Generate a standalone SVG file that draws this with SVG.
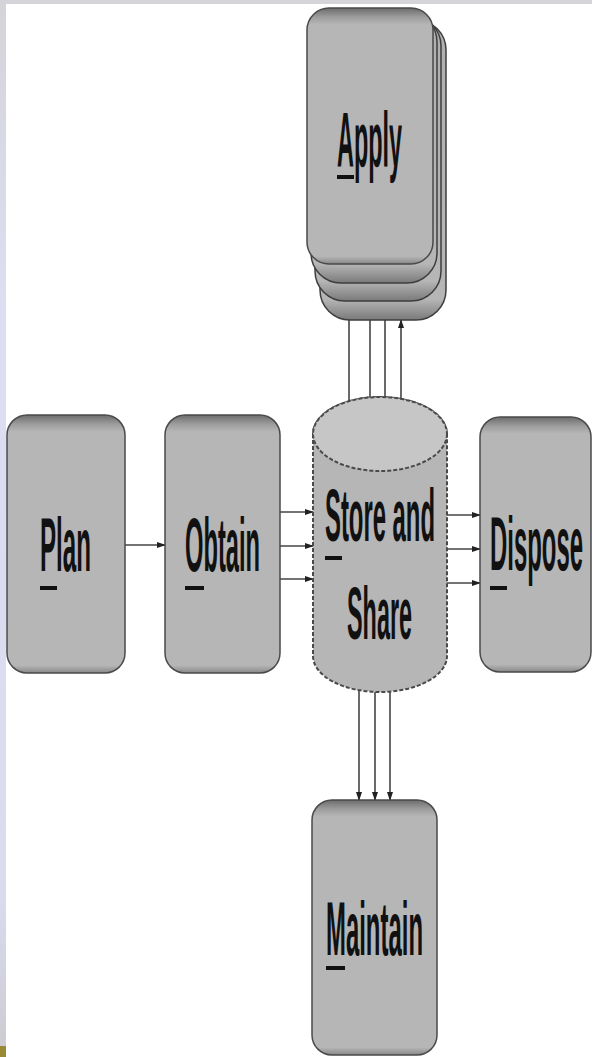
<svg xmlns="http://www.w3.org/2000/svg" width="592" height="1057" viewBox="0 0 592 1057">
  <defs>
    <linearGradient id="boxg" x1="0" y1="0" x2="0" y2="1">
      <stop offset="0" stop-color="#6c6c6c"/>
      <stop offset="0.035" stop-color="#9c9c9c"/>
      <stop offset="0.065" stop-color="#b6b6b6"/>
      <stop offset="0.97" stop-color="#b6b6b6"/>
      <stop offset="1" stop-color="#888888"/>
    </linearGradient>
    <linearGradient id="stackg" x1="0" y1="0" x2="0" y2="1">
      <stop offset="0" stop-color="#b0b0b0"/>
      <stop offset="0.93" stop-color="#b6b6b6"/>
      <stop offset="1" stop-color="#7a7a7a"/>
    </linearGradient>
    <linearGradient id="sideg" x1="0" y1="0" x2="0" y2="1">
      <stop offset="0" stop-color="#d4d4d8"/>
      <stop offset="0.3" stop-color="#dcdff3"/>
      <stop offset="0.85" stop-color="#d9dbef"/>
      <stop offset="1" stop-color="#cbcbcf"/>
    </linearGradient>
    <marker id="ah" markerWidth="9" markerHeight="6" refX="8" refY="3" orient="auto" markerUnits="userSpaceOnUse">
      <path d="M0,0 L9,3 L0,6 Z" fill="#222"/>
    </marker>
    <style>
      .box { fill: url(#boxg); stroke: #4a4a4a; stroke-width: 1.5; }
      .layer { fill: url(#stackg); stroke: #3e3e3e; stroke-width: 1.5; }
      .lbl { font-family: "Liberation Sans", Arial, sans-serif; font-weight: bold; fill: #111; }
      .ul { fill: #111; }
      .conn { stroke: #444; stroke-width: 1.6; fill: none; marker-end: url(#ah); }
    </style>
  </defs>

  <rect x="0" y="0" width="592" height="1057" fill="#ffffff"/>
  <rect x="0" y="0" width="592" height="4" fill="#d5d5d9"/>
  <rect x="0" y="0" width="6" height="1057" fill="url(#sideg)"/>
  <rect x="0" y="1046" width="6" height="11" fill="#9a8a35"/>

  <g id="connectors">
    <line class="conn" x1="125" y1="545" x2="165" y2="545"/>
    <line class="conn" x1="280" y1="512" x2="313" y2="512"/>
    <line class="conn" x1="280" y1="546" x2="313" y2="546"/>
    <line class="conn" x1="280" y1="579" x2="313" y2="579"/>
    <line class="conn" x1="447" y1="515" x2="480" y2="515"/>
    <line class="conn" x1="447" y1="549" x2="480" y2="549"/>
    <line class="conn" x1="447" y1="583" x2="480" y2="583"/>
    <line class="conn" x1="349" y1="401" x2="349" y2="265"/>
    <line class="conn" x1="370" y1="397" x2="370" y2="283"/>
    <line class="conn" x1="385" y1="397" x2="385" y2="301"/>
    <line class="conn" x1="401" y1="399" x2="401" y2="320"/>
    <line class="conn" x1="359" y1="690" x2="359" y2="800"/>
    <line class="conn" x1="375" y1="692" x2="375" y2="800"/>
    <line class="conn" x1="390" y1="692" x2="390" y2="800"/>
  </g>

  <g id="apply">
    <rect class="layer" x="320" y="20" width="126" height="300" rx="30"/>
    <rect class="layer" x="315" y="16" width="126" height="285" rx="30"/>
    <rect class="layer" x="311" y="12" width="126" height="271" rx="30"/>
    <rect class="box" x="307" y="8" width="126" height="256" rx="22"/>
    <text class="lbl" x="337" y="167" font-size="78" textLength="65" lengthAdjust="spacingAndGlyphs">Apply</text>
    <rect class="ul" x="337" y="175" width="17" height="4"/>
  </g>

  <g id="plan">
    <rect class="box" x="7" y="415" width="118" height="258" rx="20"/>
    <text class="lbl" x="40" y="571" font-size="76" textLength="51" lengthAdjust="spacingAndGlyphs">Plan</text>
    <rect class="ul" x="40" y="586" width="17" height="4"/>
  </g>

  <g id="obtain">
    <rect class="box" x="165" y="415" width="115" height="258" rx="20"/>
    <text class="lbl" x="185" y="571" font-size="76" textLength="75" lengthAdjust="spacingAndGlyphs">Obtain</text>
    <rect class="ul" x="185" y="586" width="19" height="4"/>
  </g>

  <g id="store">
    <path d="M313,434 L313,656 A67,36 0 0 0 447,656 L447,434 A67,37 0 0 0 313,434 Z" fill="#b6b6b6" stroke="#4a4a4a" stroke-width="2" stroke-dasharray="4 2"/>
    <ellipse cx="380" cy="434" rx="67" ry="37" fill="#c6c6c6" stroke="#4a4a4a" stroke-width="2" stroke-dasharray="4 2"/>
    <text class="lbl" x="325" y="541" font-size="75" textLength="110" lengthAdjust="spacingAndGlyphs">Store and</text>
    <text class="lbl" x="347" y="639" font-size="75" textLength="65" lengthAdjust="spacingAndGlyphs">Share</text>
    <rect class="ul" x="325" y="556" width="17" height="4"/>
  </g>

  <g id="dispose">
    <rect class="box" x="480" y="417" width="111" height="255" rx="20"/>
    <text class="lbl" x="490" y="570" font-size="76" textLength="93" lengthAdjust="spacingAndGlyphs">Dispose</text>
    <rect class="ul" x="490" y="586" width="17" height="4"/>
  </g>

  <g id="maintain">
    <rect class="box" x="312" y="800" width="125" height="255" rx="20"/>
    <text class="lbl" x="326" y="955" font-size="76" textLength="97" lengthAdjust="spacingAndGlyphs">Maintain</text>
    <rect class="ul" x="326" y="966" width="19" height="4"/>
  </g>
</svg>
